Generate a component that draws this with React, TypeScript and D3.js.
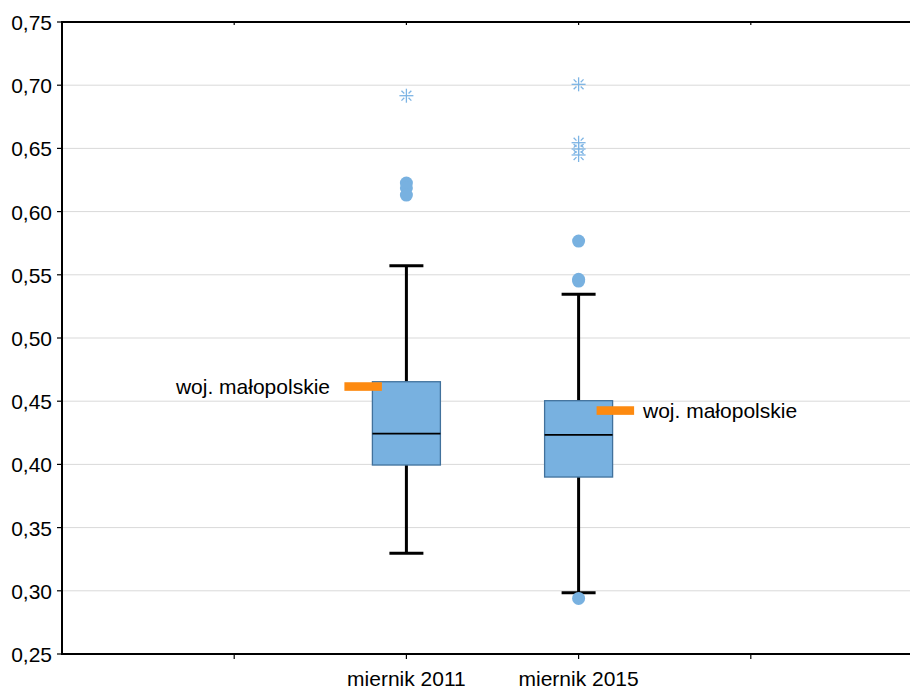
import React from "react";
import * as d3 from "d3";

const categories = ["miernik 2011", "miernik 2015"];
const q1 = [0.3995, 0.390];
const median = [0.4243, 0.4233];
const q3 = [0.4654, 0.4504];
const whiskerLow = [0.3297, 0.2985];
const whiskerHigh = [0.5572, 0.5346];
const outliers2011 = [0.6226, 0.6187, 0.6131];
const outliers2015 = [0.5767, 0.5465, 0.5450, 0.294];
const extremes2011 = [0.6917];
const extremes2015 = [0.7007, 0.6545, 0.6495, 0.6448];
const regionValues = [0.4616, 0.4426];
const regionLabel = "woj. małopolskie";
const yTicks = [0.25, 0.3, 0.35, 0.4, 0.45, 0.5, 0.55, 0.6, 0.65, 0.7, 0.75];
const xTickPositions = [-1, 0, 1, 2];

const W = 910;
const H = 689;
const FONT = "'Liberation Sans', Arial, sans-serif";

export default function App() {
  const y = d3.scaleLinear().domain([0.25, 0.75]).range([654, 22]);
  const x = d3.scaleLinear().domain([-2, 3]).range([62, 923]);
  const fmt = (v: number) => d3.format(".2f")(v).replace(".", ",");
  const outliers = [outliers2011, outliers2015];
  const extremes = [extremes2011, extremes2015];
  const boxW = 68;
  const capW = 34;
  const boxFill = "#78b1e0";
  const boxStroke = "#41719c";
  const outColor = "#78b1e0";
  const starColor = "#7db4e4";
  const orange = "#fd8a10";

  const star = (cx: number, cy: number, key: string) => {
    const r = 7;
    const d1 = 3;
    const d2 = 7;
    const s = Math.SQRT1_2;
    return (
      <g key={key} stroke={starColor} strokeWidth={1.3} fill="none">
        <line x1={cx - r} y1={cy} x2={cx + r} y2={cy} />
        <line x1={cx} y1={cy - r} x2={cx} y2={cy + r} />
        {[[1, 1], [1, -1], [-1, 1], [-1, -1]].map(([a, b], i) => (
          <line
            key={i}
            x1={cx + a * d1 * s}
            y1={cy + b * d1 * s}
            x2={cx + a * d2 * s}
            y2={cy + b * d2 * s}
          />
        ))}
      </g>
    );
  };

  return (
    <div style={{ position: "absolute", left: 0, top: 0 }}>
      <svg width={W} height={H} style={{ display: "block" }}>
        <rect x={0} y={0} width={W} height={H} fill="#fff" />
        {yTicks
          .filter((t) => t > 0.26 && t < 0.74)
          .map((t) => (
            <line
              key={"g" + t}
              x1={62}
              x2={W}
              y1={y(t)}
              y2={y(t)}
              stroke="#d9d9d9"
              strokeWidth={1}
            />
          ))}
        {yTicks.map((t) => (
          <g key={"t" + t}>
            <line x1={57} x2={62} y1={y(t)} y2={y(t)} stroke="#000" strokeWidth={1.2} />
            <text
              x={52}
              y={y(t) + 8}
              textAnchor="end"
              fontFamily={FONT}
              fontSize={21}
              fill="#000"
            >
              {fmt(t)}
            </text>
          </g>
        ))}
        {xTickPositions.map((p) => (
          <g key={"x" + p}>
            <line x1={x(p)} x2={x(p)} y1={y(0.25)} y2={y(0.25) + 5} stroke="#000" strokeWidth={1.2} />
            <line x1={x(p)} x2={x(p)} y1={y(0.75)} y2={y(0.75) + 3} stroke="#000" strokeWidth={1.2} />
          </g>
        ))}
        {categories.map((c, i) => (
          <text
            key={"c" + c}
            x={x(i)}
            y={686}
            textAnchor="middle"
            fontFamily={FONT}
            fontSize={21}
            fill="#000"
          >
            {c}
          </text>
        ))}
        {categories.map((c, i) => {
          const cx = x(i);
          return (
            <g key={"b" + c}>
              <line x1={cx} x2={cx} y1={y(whiskerHigh[i])} y2={y(q3[i])} stroke="#000" strokeWidth={3} />
              <line x1={cx} x2={cx} y1={y(q1[i])} y2={y(whiskerLow[i])} stroke="#000" strokeWidth={3} />
              <line
                x1={cx - capW / 2}
                x2={cx + capW / 2}
                y1={y(whiskerHigh[i])}
                y2={y(whiskerHigh[i])}
                stroke="#000"
                strokeWidth={3}
              />
              <line
                x1={cx - capW / 2}
                x2={cx + capW / 2}
                y1={y(whiskerLow[i])}
                y2={y(whiskerLow[i])}
                stroke="#000"
                strokeWidth={3}
              />
              <rect
                x={cx - boxW / 2}
                y={y(q3[i])}
                width={boxW}
                height={y(q1[i]) - y(q3[i])}
                fill={boxFill}
                stroke={boxStroke}
                strokeWidth={1.3}
              />
              <line
                x1={cx - boxW / 2}
                x2={cx + boxW / 2}
                y1={y(median[i])}
                y2={y(median[i])}
                stroke="#000"
                strokeWidth={1.8}
              />
              {outliers[i].map((v, k) => (
                <circle key={"o" + k} cx={cx} cy={y(v)} r={6.5} fill={outColor} />
              ))}
              {extremes[i].map((v, k) => star(cx, y(v), "s" + i + k))}
            </g>
          );
        })}
        <rect x={x(0) - 62} y={y(regionValues[0]) - 4.3} width={37.5} height={8.6} fill={orange} />
        <text
          x={330}
          y={y(regionValues[0]) + 7.5}
          textAnchor="end"
          fontFamily={FONT}
          fontSize={21}
          fill="#000"
        >
          {regionLabel}
        </text>
        <rect x={x(1) + 18} y={y(regionValues[1]) - 4.3} width={37.5} height={8.6} fill={orange} />
        <text
          x={643}
          y={y(regionValues[1]) + 7}
          textAnchor="start"
          fontFamily={FONT}
          fontSize={21}
          fill="#000"
        >
          {regionLabel}
        </text>
        <line x1={62} x2={62} y1={y(0.75) - 1} y2={y(0.25) + 1} stroke="#000" strokeWidth={2} />
        <line x1={61} x2={W} y1={y(0.75)} y2={y(0.75)} stroke="#000" strokeWidth={2} />
        <line x1={61} x2={W} y1={y(0.25)} y2={y(0.25)} stroke="#000" strokeWidth={2} />
      </svg>
    </div>
  );
}
